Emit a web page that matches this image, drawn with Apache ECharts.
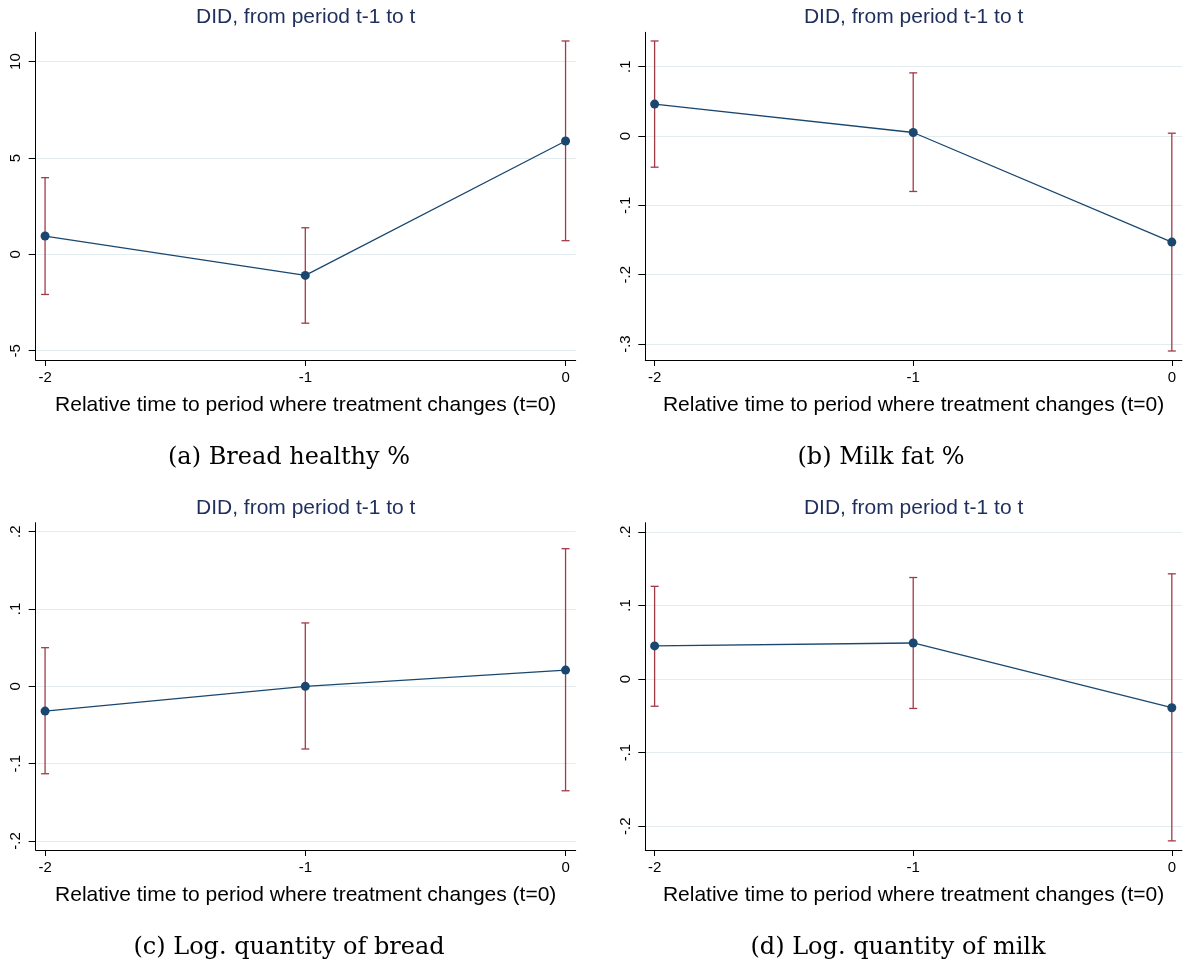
<!DOCTYPE html>
<html>
<head>
<meta charset="utf-8">
<script src="https://cdn.jsdelivr.net/npm/echarts@6/dist/echarts.min.js"></script>
<style>
  html, body { margin: 0; padding: 0; background: #ffffff; }
  #chart { width: 1183px; height: 966px; }
</style>
</head>
<body>
<div id="chart"></div>
<script>
// Event-study periods relative to the treatment change (t = 0)
const periods = [-2, -1, 0];
const xTicks = [-2, -1, 0];

// (a) Bread healthy %
const breadHealthyEst = [0.95, -1.09, 5.88];
const breadHealthyLo  = [-2.08, -3.57, 0.71];
const breadHealthyHi  = [3.98, 1.38, 11.07];
const breadHealthyTicks = [-5, 0, 5, 10];

// (b) Milk fat %
const milkFatEst = [0.046, 0.005, -0.153];
const milkFatLo  = [-0.045, -0.080, -0.310];
const milkFatHi  = [0.137, 0.091, 0.004];
const milkFatTicks = [-0.3, -0.2, -0.1, 0, 0.1];

// (c) Log. quantity of bread
const logBreadEst = [-0.032, 0.000, 0.021];
const logBreadLo  = [-0.113, -0.081, -0.135];
const logBreadHi  = [0.050, 0.082, 0.178];
const logBreadTicks = [-0.2, -0.1, 0, 0.1, 0.2];

// (d) Log. quantity of milk
const logMilkEst = [0.045, 0.049, -0.039];
const logMilkLo  = [-0.037, -0.040, -0.220];
const logMilkHi  = [0.126, 0.138, 0.143];
const logMilkTicks = [-0.2, -0.1, 0, 0.1, 0.2];

const panelTitle = 'DID, from period t-1 to t';
const xAxisTitle = 'Relative time to period where treatment changes (t=0)';
const captions = ['(a) Bread healthy %', '(b) Milk fat %', '(c) Log. quantity of bread', '(d) Log. quantity of milk'];

const NAVY = '#1a476f';
const CI_RED = '#a23b48';
const TITLE_NAVY = '#1f2f5c';
const GRID_GRAY = '#e3ecee';
const SANS = '"Liberation Sans", Arial, Helvetica, sans-serif';
const SERIF = '"DejaVu Serif", "Liberation Serif", serif';

// Layout of each panel (pixel box + visible value range)
const panels = [
  { est: breadHealthyEst, lo: breadHealthyLo, hi: breadHealthyHi, ticks: breadHealthyTicks,
    yMin: -5.48, yMax: 11.52, left: 35.7, top: 32.3, width: 540, height: 327.7,
    titleY: 17.7, captionX: 289, captionY: 458 },
  { est: milkFatEst, lo: milkFatLo, hi: milkFatHi, ticks: milkFatTicks,
    yMin: -0.323, yMax: 0.1495, left: 645.3, top: 32.3, width: 536.6, height: 327.7,
    titleY: 17.7, captionX: 881, captionY: 458 },
  { est: logBreadEst, lo: logBreadLo, hi: logBreadHi, ticks: logBreadTicks,
    yMin: -0.2116, yMax: 0.2116, left: 35.7, top: 522.7, width: 540, height: 327.3,
    titleY: 508, captionX: 289, captionY: 948 },
  { est: logMilkEst, lo: logMilkLo, hi: logMilkHi, ticks: logMilkTicks,
    yMin: -0.2324, yMax: 0.2125, left: 645.3, top: 522.7, width: 536.6, height: 327.3,
    titleY: 508, captionX: 898, captionY: 948 }
];

// Stata-style tick labels: drop the leading zero (".1", "-.2")
function stataLabel(v) {
  const s = String(Math.round(v * 1000) / 1000);
  return s.replace(/^(-?)0\./, '$1.');
}

const grids = [], xAxes = [], yAxes = [], series = [], graphics = [];

panels.forEach(function (p, i) {
  grids.push({ left: p.left, top: p.top, width: p.width, height: p.height, containLabel: false });

  xAxes.push({
    type: 'value', gridIndex: i, min: -2.036, max: 0.039,
    axisLine: { show: true, onZero: false, lineStyle: { color: '#000', width: 1 } },
    axisTick: { show: true, customValues: xTicks, length: 6, lineStyle: { color: '#000', width: 1 } },
    axisLabel: { customValues: xTicks, formatter: stataLabel, fontSize: 15, color: '#000',
                 fontFamily: SANS, margin: 10 },
    splitLine: { show: false },
    name: xAxisTitle, nameLocation: 'middle', nameGap: 35,
    nameTextStyle: { fontSize: 21, color: '#000', fontFamily: SANS }
  });

  yAxes.push({
    type: 'value', gridIndex: i, min: p.yMin, max: p.yMax,
    axisLine: { show: true, onZero: false, lineStyle: { color: '#000', width: 1 } },
    axisTick: { show: true, customValues: p.ticks, length: 7, lineStyle: { color: '#000', width: 1 } },
    axisLabel: { customValues: p.ticks, formatter: stataLabel, rotate: 90, fontSize: 15,
                 color: '#000', fontFamily: SANS, margin: 12 },
    splitLine: { show: true, lineStyle: { color: GRID_GRAY, width: 1.2 } }
  });

  // 95% confidence intervals with end caps
  series.push({
    type: 'custom', xAxisIndex: i, yAxisIndex: i, z: 2, clip: false,
    encode: { x: 0, y: [1, 2] },
    data: periods.map(function (t, k) { return [t, p.lo[k], p.hi[k]]; }),
    renderItem: function (params, api) {
      const x = api.value(0);
      const pLo = api.coord([x, api.value(1)]);
      const pHi = api.coord([x, api.value(2)]);
      const cap = 4;
      const style = { stroke: CI_RED, lineWidth: 1.3 };
      return {
        type: 'group',
        children: [
          { type: 'line', shape: { x1: pLo[0], y1: pLo[1], x2: pHi[0], y2: pHi[1] }, style: style },
          { type: 'line', shape: { x1: pHi[0] - cap, y1: pHi[1], x2: pHi[0] + cap, y2: pHi[1] }, style: style },
          { type: 'line', shape: { x1: pLo[0] - cap, y1: pLo[1], x2: pLo[0] + cap, y2: pLo[1] }, style: style }
        ]
      };
    }
  });

  // Point estimates connected by a line
  series.push({
    type: 'line', xAxisIndex: i, yAxisIndex: i, z: 3,
    data: periods.map(function (t, k) { return [t, p.est[k]]; }),
    symbol: 'circle', symbolSize: 9, showSymbol: true,
    lineStyle: { color: NAVY, width: 1.3 },
    itemStyle: { color: NAVY },
    emphasis: { disabled: true }
  });

  graphics.push({
    type: 'text', x: p.left + p.width / 2, y: p.titleY,
    style: { text: panelTitle, fill: TITLE_NAVY, fontSize: 21, fontFamily: SANS,
             align: 'center', verticalAlign: 'middle' }
  });
  graphics.push({
    type: 'text', x: p.captionX, y: p.captionY,
    style: { text: captions[i], fill: '#000', fontSize: 24, fontFamily: SERIF,
             align: 'center', verticalAlign: 'middle' }
  });
});

const chart = echarts.init(document.getElementById('chart'), null, { renderer: 'canvas' });
chart.setOption({
  animation: false,
  backgroundColor: '#ffffff',
  grid: grids,
  xAxis: xAxes,
  yAxis: yAxes,
  series: series,
  graphic: graphics,
  tooltip: { show: false }
});
</script>
</body>
</html>
